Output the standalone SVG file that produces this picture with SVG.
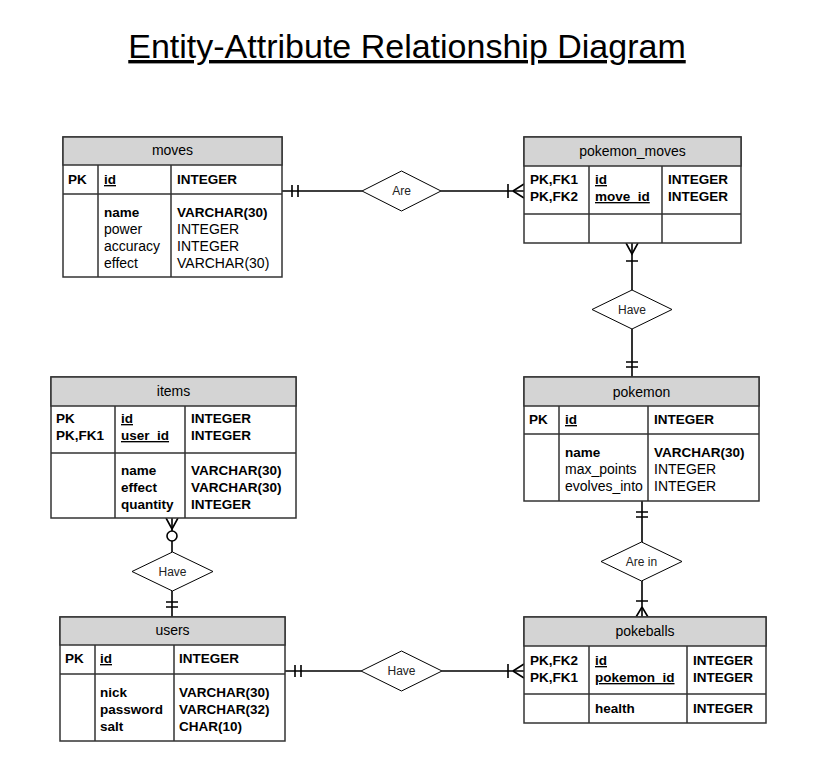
<svg xmlns="http://www.w3.org/2000/svg" width="818" height="781" viewBox="0 0 818 781">
<style>
text{font-family:"Liberation Sans",Arial,sans-serif;fill:#000}
.title{font-size:34px;text-decoration:underline}
.hd{font-size:14px;text-anchor:middle}
.b{font-size:13.5px;font-weight:bold}
.r{font-size:14px}
.u{text-decoration:underline}
.dl{font-size:12px;text-anchor:middle;fill:#222}
.box{fill:#fff;stroke:#333;stroke-width:1.5}
.head{fill:#d4d4d4;stroke:#333;stroke-width:1.5}
.sep{stroke:#333;stroke-width:1.5;fill:none}
.ln{stroke:#000;stroke-width:1.6;fill:none}
.dia{fill:#fff;stroke:#000;stroke-width:1}
</style>
<rect width="818" height="781" fill="#fff"/>
<text class="title" x="407" y="58" text-anchor="middle">Entity-Attribute Relationship Diagram</text>

<g id="connectors">
  <!-- moves - Are - pokemon_moves -->
  <path class="ln" d="M282 191H362M441 191H524"/>
  <path class="ln" d="M292 185V197M298 185V197"/>
  <path class="ln" d="M508 184V198M513 191L524 184M513 191L524 198"/>
  <!-- pokemon_moves - Have - pokemon -->
  <path class="ln" d="M632 243V290M632 329V377"/>
  <path class="ln" d="M626 243L632 254L638 243M626 261H638"/>
  <path class="ln" d="M626 362H638M626 367H638"/>
  <!-- pokemon - Are in - pokeballs -->
  <path class="ln" d="M642 501V542M642 581V617"/>
  <path class="ln" d="M636 512H648M636 517H648"/>
  <path class="ln" d="M636 601H648M642 607L636 617M642 607L648 617"/>
  <!-- items - Have - users -->
  <path class="ln" d="M172 518V552M172 591V617"/>
  <path class="ln" d="M166 518L172 529L178 518"/>
  <circle cx="172" cy="536" r="5" fill="#fff" stroke="#000" stroke-width="1.6"/>
  <path class="ln" d="M166 602H178M166 607H178"/>
  <!-- users - Have - pokeballs -->
  <path class="ln" d="M285 671H361M442 671H524"/>
  <path class="ln" d="M295 665V677M301 665V677"/>
  <path class="ln" d="M508 664V678M513 671L524 664M513 671L524 678"/>
</g>

<g id="rel-are">
  <polygon class="dia" points="362,191 401.5,171 441,191 401.5,211"/>
  <text class="dl" x="401.5" y="195">Are</text>
</g>
<g id="rel-have-moves">
  <polygon class="dia" points="592,309.5 632,290 672,309.5 632,329"/>
  <text class="dl" x="632" y="313.5">Have</text>
</g>
<g id="rel-are-in">
  <polygon class="dia" points="601,561.5 641.5,542 682,561.5 641.5,581"/>
  <text class="dl" x="641.5" y="565.5">Are in</text>
</g>
<g id="rel-have-items">
  <polygon class="dia" points="132,571.5 172.5,552 213,571.5 172.5,591"/>
  <text class="dl" x="172.5" y="575.5">Have</text>
</g>
<g id="rel-have-users">
  <polygon class="dia" points="361,671 401.5,651 442,671 401.5,691"/>
  <text class="dl" x="401.5" y="675">Have</text>
</g>

<g id="moves">
  <rect class="box" x="63" y="137" width="219" height="140"/>
  <rect class="head" x="63" y="137" width="219" height="28"/>
  <path class="sep" d="M63 194H282M98 165V277M171 165V277"/>
  <text class="hd" x="172.5" y="155">moves</text>
  <text class="b" x="68" y="184">PK</text>
  <text class="b u" x="104" y="184">id</text>
  <text class="b" x="177" y="184">INTEGER</text>
  <text class="b" x="104" y="217">name</text>
  <text class="r" x="104" y="234">power</text>
  <text class="r" x="104" y="251">accuracy</text>
  <text class="r" x="104" y="268">effect</text>
  <text class="b" x="177" y="217">VARCHAR(30)</text>
  <text class="r" x="177" y="234">INTEGER</text>
  <text class="r" x="177" y="251">INTEGER</text>
  <text class="r" x="177" y="268">VARCHAR(30)</text>
</g>

<g id="pokemon_moves">
  <rect class="box" x="524" y="137" width="217" height="106"/>
  <rect class="head" x="524" y="137" width="217" height="29"/>
  <path class="sep" d="M524 214H741M589 166V243M662 166V243"/>
  <text class="hd" x="632.5" y="156">pokemon_moves</text>
  <text class="b" x="530" y="184">PK,FK1</text>
  <text class="b" x="530" y="201">PK,FK2</text>
  <text class="b u" x="595" y="184">id</text>
  <text class="b u" x="595" y="201">move_id</text>
  <text class="b" x="668" y="184">INTEGER</text>
  <text class="b" x="668" y="201">INTEGER</text>
</g>

<g id="pokemon">
  <rect class="box" x="524" y="377" width="235" height="124"/>
  <rect class="head" x="524" y="377" width="235" height="29"/>
  <path class="sep" d="M524 434H759M559 406V501M648 406V501"/>
  <text class="hd" x="641.5" y="397">pokemon</text>
  <text class="b" x="529" y="424">PK</text>
  <text class="b u" x="565" y="424">id</text>
  <text class="b" x="654" y="424">INTEGER</text>
  <text class="b" x="565" y="457">name</text>
  <text class="r" x="565" y="474">max_points</text>
  <text class="r" x="565" y="491">evolves_into</text>
  <text class="b" x="654" y="457">VARCHAR(30)</text>
  <text class="r" x="654" y="474">INTEGER</text>
  <text class="r" x="654" y="491">INTEGER</text>
</g>

<g id="items">
  <rect class="box" x="51" y="377" width="245" height="141"/>
  <rect class="head" x="51" y="377" width="245" height="29"/>
  <path class="sep" d="M51 453H296M115 406V518M185 406V518"/>
  <text class="hd" x="173.5" y="396">items</text>
  <text class="b" x="56" y="423">PK</text>
  <text class="b" x="56" y="440">PK,FK1</text>
  <text class="b u" x="121" y="423">id</text>
  <text class="b u" x="121" y="440">user_id</text>
  <text class="b" x="191" y="423">INTEGER</text>
  <text class="b" x="191" y="440">INTEGER</text>
  <text class="b" x="121" y="475">name</text>
  <text class="b" x="121" y="492">effect</text>
  <text class="b" x="121" y="509">quantity</text>
  <text class="b" x="191" y="475">VARCHAR(30)</text>
  <text class="b" x="191" y="492">VARCHAR(30)</text>
  <text class="b" x="191" y="509">INTEGER</text>
</g>

<g id="users">
  <rect class="box" x="60" y="617" width="225" height="124"/>
  <rect class="head" x="60" y="617" width="225" height="28"/>
  <path class="sep" d="M60 674H285M95 645V741M174 645V741"/>
  <text class="hd" x="172.5" y="635">users</text>
  <text class="b" x="65" y="663">PK</text>
  <text class="b u" x="100" y="663">id</text>
  <text class="b" x="179" y="663">INTEGER</text>
  <text class="b" x="100" y="697">nick</text>
  <text class="b" x="100" y="714">password</text>
  <text class="b" x="100" y="731">salt</text>
  <text class="b" x="179" y="697">VARCHAR(30)</text>
  <text class="b" x="179" y="714">VARCHAR(32)</text>
  <text class="b" x="179" y="731">CHAR(10)</text>
</g>

<g id="pokeballs">
  <rect class="box" x="524" y="617" width="242" height="106"/>
  <rect class="head" x="524" y="617" width="242" height="29"/>
  <path class="sep" d="M524 694H766M589 646V723M687 646V723"/>
  <text class="hd" x="645" y="636">pokeballs</text>
  <text class="b" x="530" y="665">PK,FK2</text>
  <text class="b" x="530" y="682">PK,FK1</text>
  <text class="b u" x="595" y="665">id</text>
  <text class="b u" x="595" y="682">pokemon_id</text>
  <text class="b" x="693" y="665">INTEGER</text>
  <text class="b" x="693" y="682">INTEGER</text>
  <text class="b" x="595" y="713">health</text>
  <text class="b" x="693" y="713">INTEGER</text>
</g>
</svg>
